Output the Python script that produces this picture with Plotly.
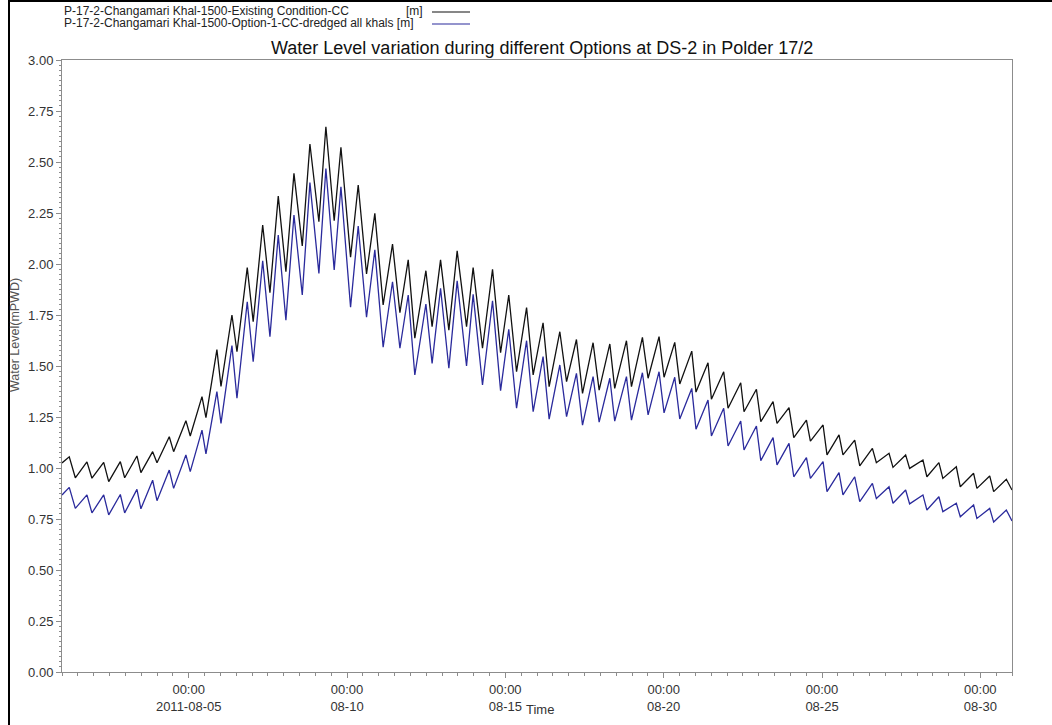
import pandas as pd
import plotly.graph_objects as go

# Simulation output, 1-31 Aug 2011: tidal highs and lows (hours after 2011-08-01 00:00)
hours = [0, 5.5, 10.1, 18.9, 22.7, 31.6, 35.4, 44.2, 47.5, 56.8, 59.8, 68.7, 72.0,
         81.3, 84.6, 93.9, 97.2, 106.1, 109.1, 117.4, 120.5, 128.8, 132.6, 140.4,
         144.9, 152.1, 157.6, 163.9, 169.7, 175.8, 182.1, 187.9, 194.7, 200.0, 206.3,
         211.4, 218.7, 224.5, 230.8, 237.1, 243.4, 250.5, 256.1, 262.4, 267.4, 275.8,
         280.5, 286.9, 293.2, 299.5, 306.6, 311.6, 318.7, 326.3, 332.4, 338.6, 344.5,
         352.1, 357.1, 364.6, 369.2, 377.3, 382.4, 389.9, 394.5, 402.5, 407.1, 415.2,
         418.9, 427.8, 431.6, 439.9, 444.2, 452.5, 456.3, 464.4, 468.2, 477.3, 480.5,
         489.6, 492.2, 501.5, 504.8, 514.4, 516.9, 526.3, 529.6, 538.9, 541.9, 551.0,
         554.6, 564.2, 567.2, 576.8, 579.8, 588.9, 591.9, 600.8, 604.6, 614.2, 617.2,
         626.8, 629.8, 639.4, 642.4, 652.5, 655.5, 664.6, 667.6, 677.8, 680.8, 690.9,
         693.4, 703.1, 706.1, 715.7, 720.0]

existing = [1.025, 1.055, 0.952, 1.030, 0.950, 1.028, 0.933, 1.031, 0.952, 1.059, 0.977,
            1.080, 1.026, 1.153, 1.080, 1.232, 1.157, 1.350, 1.247, 1.580, 1.400, 1.750,
            1.570, 1.982, 1.717, 2.191, 1.859, 2.333, 1.962, 2.444, 2.088, 2.588, 2.207,
            2.673, 2.212, 2.572, 2.033, 2.387, 1.951, 2.248, 1.799, 2.098, 1.761, 2.020,
            1.636, 1.967, 1.693, 2.020, 1.676, 2.064, 1.693, 1.982, 1.587, 1.974, 1.565,
            1.848, 1.472, 1.786, 1.456, 1.712, 1.399, 1.668, 1.423, 1.630, 1.366, 1.614,
            1.382, 1.608, 1.390, 1.624, 1.399, 1.640, 1.440, 1.644, 1.445, 1.616, 1.412,
            1.573, 1.372, 1.516, 1.337, 1.472, 1.293, 1.418, 1.276, 1.386, 1.227, 1.325,
            1.219, 1.296, 1.149, 1.235, 1.132, 1.211, 1.064, 1.162, 1.064, 1.137, 1.010,
            1.096, 1.026, 1.072, 1.003, 1.064, 0.998, 1.039, 0.957, 1.026, 0.949, 1.006,
            0.908, 0.974, 0.900, 0.961, 0.884, 0.945, 0.892]

dredged = [0.868, 0.905, 0.802, 0.868, 0.780, 0.868, 0.770, 0.870, 0.780, 0.895, 0.800,
           0.940, 0.840, 0.990, 0.900, 1.064, 0.982, 1.186, 1.069, 1.374, 1.219, 1.600,
           1.342, 1.815, 1.521, 2.016, 1.644, 2.142, 1.725, 2.240, 1.848, 2.399, 1.954,
           2.468, 1.971, 2.379, 1.788, 2.186, 1.739, 2.069, 1.592, 1.913, 1.587, 1.848,
           1.456, 1.804, 1.513, 1.881, 1.489, 1.917, 1.500, 1.851, 1.407, 1.820, 1.379,
           1.680, 1.293, 1.624, 1.276, 1.546, 1.239, 1.505, 1.252, 1.464, 1.210, 1.448,
           1.225, 1.440, 1.230, 1.448, 1.235, 1.467, 1.260, 1.472, 1.270, 1.445, 1.240,
           1.390, 1.190, 1.333, 1.157, 1.293, 1.108, 1.230, 1.088, 1.206, 1.036, 1.149,
           1.015, 1.121, 0.957, 1.051, 0.949, 1.031, 0.884, 0.977, 0.868, 0.957, 0.835,
           0.925, 0.850, 0.908, 0.827, 0.892, 0.824, 0.868, 0.794, 0.859, 0.786, 0.827,
           0.761, 0.819, 0.753, 0.802, 0.735, 0.794, 0.740]

series_names = ["P-17-2-Changamari Khal-1500-Existing Condition-CC",
                "P-17-2-Changamari Khal-1500-Option-1-CC-dredged all khals"]
series_colors = ["#111111", "#2a2a9c"]

tick_dates = ["2011-08-05", "2011-08-10", "2011-08-15", "2011-08-20", "2011-08-25", "2011-08-30"]
tick_text = ["00:00<br>2011-08-05", "00:00<br>08-10", "00:00<br>08-15",
             "00:00<br>08-20", "00:00<br>08-25", "00:00<br>08-30"]
y_ticks = [0.00, 0.25, 0.50, 0.75, 1.00, 1.25, 1.50, 1.75, 2.00, 2.25, 2.50, 2.75, 3.00]

start = pd.Timestamp("2011-08-01 00:00")
times = [start + pd.Timedelta(hours=h) for h in hours]

fig = go.Figure()
for vals, name, col in zip([existing, dredged], series_names, series_colors):
    fig.add_trace(go.Scatter(x=times, y=vals, mode="lines", name=name,
                             line=dict(color=col, width=1.3), showlegend=False))

FONT = "Liberation Sans, Arial, sans-serif"
W, H = 1052, 725
L, R, T, B = 62, 40, 60, 53
pw, ph = W - L - R, H - T - B


def px(x):
    return (x - L) / pw


def py(y):
    return (H - B - y) / ph


axis_col = "#8c8c8c"
tick_font = dict(size=13, color="#333333", family=FONT)
fig.update_layout(
    width=W, height=H,
    margin=dict(l=L, r=R, t=T, b=B),
    paper_bgcolor="white", plot_bgcolor="white",
    font=dict(family=FONT, size=13, color="#333333"),
    xaxis=dict(
        range=[start, pd.Timestamp("2011-08-31 00:00")],
        tickvals=tick_dates, ticktext=tick_text,
        ticks="outside", ticklen=5, tickcolor=axis_col,
        showline=True, linecolor=axis_col, linewidth=1, mirror=True,
        showgrid=False, zeroline=False, tickfont=tick_font,
        minor=dict(dtick=12 * 3600 * 1000, ticks="outside", ticklen=3, tickcolor=axis_col),
    ),
    yaxis=dict(
        range=[0, 3], tickvals=y_ticks, ticktext=[f"{v:.2f}" for v in y_ticks],
        ticks="outside", ticklen=5, tickcolor=axis_col,
        showline=True, linecolor=axis_col, linewidth=1, mirror=True,
        showgrid=False, zeroline=False, tickfont=tick_font,
        minor=dict(dtick=0.025, ticks="outside", ticklen=2, tickcolor=axis_col),
    ),
)

annotations = [
    dict(text="Water Level variation during different Options at DS-2 in Polder 17/2",
         x=px(542), y=py(48), xref="paper", yref="paper", showarrow=False,
         font=dict(size=18, color="#111111", family=FONT), xanchor="center", yanchor="middle"),
    dict(text="Water Level(mPWD)", x=px(15), y=py(335), xref="paper", yref="paper",
         showarrow=False, textangle=-90, font=dict(size=12.5, color="#555555", family=FONT),
         xanchor="center", yanchor="middle"),
    dict(text="Time", x=px(540), y=py(709), xref="paper", yref="paper", showarrow=False,
         font=dict(size=13, color="#333333", family=FONT), xanchor="center", yanchor="middle"),
    dict(text=series_names[0], x=px(62), y=py(11), xref="paper", yref="paper", showarrow=False,
         font=dict(size=12, color="#222222", family=FONT), xanchor="left", yanchor="middle"),
    dict(text="[m]", x=px(404), y=py(11), xref="paper", yref="paper", showarrow=False,
         font=dict(size=12, color="#222222", family=FONT), xanchor="left", yanchor="middle"),
    dict(text=series_names[1] + " [m]", x=px(62), y=py(23), xref="paper", yref="paper",
         showarrow=False, font=dict(size=12, color="#222222", family=FONT),
         xanchor="left", yanchor="middle"),
]
fig.update_layout(annotations=annotations)

shapes = [
    # legend line samples
    dict(type="line", xref="paper", yref="paper", x0=px(432), x1=px(470), y0=py(12), y1=py(12),
         line=dict(color=series_colors[0], width=1.2)),
    dict(type="line", xref="paper", yref="paper", x0=px(432), x1=px(470), y0=py(24), y1=py(24),
         line=dict(color=series_colors[1], width=1.2)),
    # outer frame
    dict(type="line", xref="paper", yref="paper", x0=px(9), x1=px(9), y0=py(0), y1=py(725),
         line=dict(color="#000000", width=2)),
    dict(type="line", xref="paper", yref="paper", x0=px(9), x1=px(1052), y0=py(1), y1=py(1),
         line=dict(color="#000000", width=2)),
]
fig.update_layout(shapes=shapes)

fig.write_html("out.html")
